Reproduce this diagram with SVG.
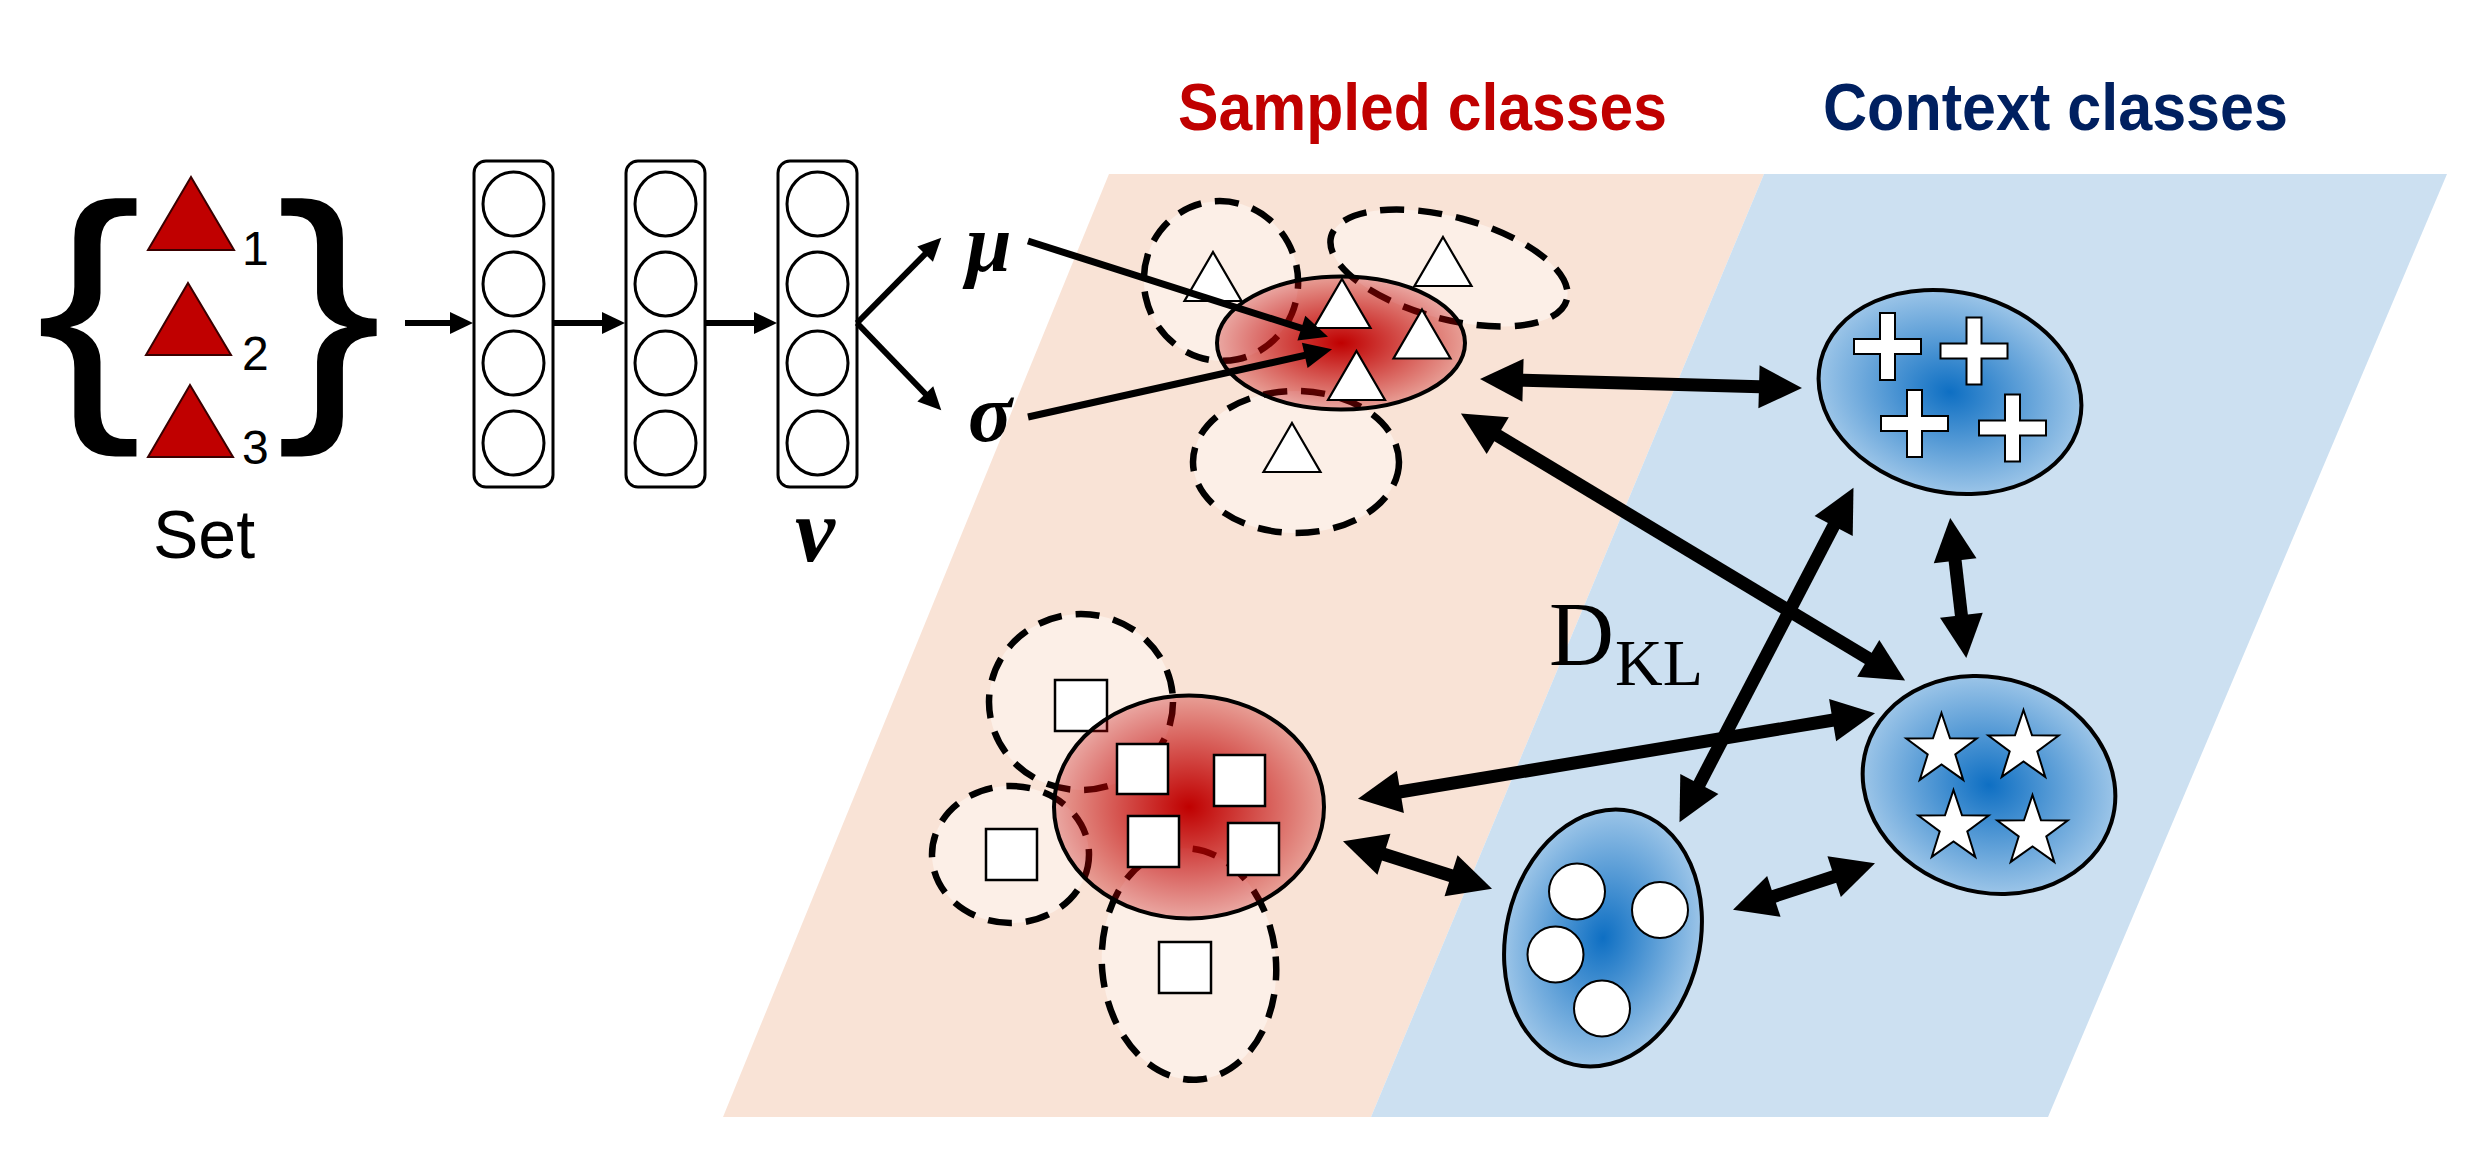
<svg xmlns="http://www.w3.org/2000/svg" width="2481" height="1152" viewBox="0 0 2481 1152">
<style>
.sans{font-family:"Liberation Sans",Arial,sans-serif}
.serif{font-family:"Liberation Serif","Times New Roman",serif}
.col{fill:#fff;stroke:#000;stroke-width:3}
.neu{fill:#fff;stroke:#000;stroke-width:3}
.dash{fill:#FCEFE7;stroke:#000;stroke-width:6.5;stroke-dasharray:24 14}
.wtri{fill:#fff;stroke:#000;stroke-width:2.2}
.sq{fill:#fff;stroke:#000;stroke-width:2.5}
.rtri{fill:#C00000;stroke:#3a0000;stroke-width:2}
.big{fill:none;stroke:#000;stroke-width:13;marker-start:url(#hb);marker-end:url(#hb)}
.thin{fill:none;stroke:#000;stroke-width:6;marker-end:url(#hs)}
.ms{fill:none;stroke:#000;stroke-width:7;marker-end:url(#hm)}
.sym{fill:#fff;stroke:#000;stroke-width:2}
</style>
<defs>
<radialGradient id="rg" cx="50%" cy="50%" r="50%">
<stop offset="0" stop-color="#C00000" stop-opacity="1"/>
<stop offset="1" stop-color="#C00000" stop-opacity="0.3"/>
</radialGradient>
<radialGradient id="bg" cx="50%" cy="50%" r="50%">
<stop offset="0" stop-color="#0E6FC3"/>
<stop offset="1" stop-color="#9CC5E8"/>
</radialGradient>
<marker id="hb" markerUnits="userSpaceOnUse" orient="auto-start-reverse" refX="1" refY="0" overflow="visible" markerWidth="44" markerHeight="44">
<path d="M0,-21.5 L43,0 L0,21.5 Z" fill="#000"/>
</marker>
<marker id="hs" markerUnits="userSpaceOnUse" orient="auto" refX="1" refY="0" overflow="visible" markerWidth="24" markerHeight="24">
<path d="M0,-11 L23,0 L0,11 Z" fill="#000"/>
</marker>
<marker id="hm" markerUnits="userSpaceOnUse" orient="auto" refX="1" refY="0" overflow="visible" markerWidth="30" markerHeight="30">
<path d="M0,-13 L28,0 L0,13 Z" fill="#000"/>
</marker>
<path id="wt" d="M0,-24.5 L28.5,24.5 L-28.5,24.5 Z"/>
<path id="plus" d="M-7.5,-33.5 H7.5 V-7.5 H33.5 V7.5 H7.5 V33.5 H-7.5 V7.5 H-33.5 V-7.5 H-7.5 Z"/>
<path id="star" d="M0,-37 L8.5,-11.7 L35.19,-11.43 L13.8,4.5 L21.75,29.93 L0,14.5 L-21.75,29.93 L-13.8,4.5 L-35.19,-11.43 L-8.5,-11.7 Z"/>
</defs>

<g id="bands">
<polygon points="1109,174 1764,174 1371,1117 723,1117" fill="#F9E3D6"/>
<polygon points="1764,174 2447,174 2048,1117 1371,1117" fill="#CCE0F1"/>
</g>

<g id="titles">
<text class="sans" x="1178" y="130" font-size="67" font-weight="bold" fill="#C00000" textLength="489" lengthAdjust="spacingAndGlyphs">Sampled classes</text>
<text class="sans" x="1823" y="130" font-size="67" font-weight="bold" fill="#002060" textLength="465" lengthAdjust="spacingAndGlyphs">Context classes</text>
</g>

<g id="set">
<text class="sans" transform="scale(1.15,1)" x="31" y="399" font-size="277">{</text>
<text class="sans" transform="scale(1.15,1)" x="240" y="399" font-size="277">}</text>
<polygon class="rtri" points="191,177 234,250 148,250"/>
<polygon class="rtri" points="188,283 231,355 146,355"/>
<polygon class="rtri" points="190,385 233,457 148,457"/>
<text class="sans" x="242" y="265" font-size="48">1</text>
<text class="sans" x="242" y="370" font-size="48">2</text>
<text class="sans" x="242" y="464" font-size="48">3</text>
<text class="sans" x="153" y="558" font-size="68">Set</text>
</g>

<g id="layer1">
<rect class="col" x="474" y="161" width="79" height="326" rx="12"/>
<ellipse class="neu" cx="513.5" cy="204" rx="30.5" ry="32"/>
<ellipse class="neu" cx="513.5" cy="284" rx="30.5" ry="32"/>
<ellipse class="neu" cx="513.5" cy="363" rx="30.5" ry="32"/>
<ellipse class="neu" cx="513.5" cy="443" rx="30.5" ry="32"/>
</g>
<g id="layer2">
<rect class="col" x="626" y="161" width="79" height="326" rx="12"/>
<ellipse class="neu" cx="665.5" cy="204" rx="30.5" ry="32"/>
<ellipse class="neu" cx="665.5" cy="284" rx="30.5" ry="32"/>
<ellipse class="neu" cx="665.5" cy="363" rx="30.5" ry="32"/>
<ellipse class="neu" cx="665.5" cy="443" rx="30.5" ry="32"/>
</g>
<g id="layer3">
<rect class="col" x="778" y="161" width="79" height="326" rx="12"/>
<ellipse class="neu" cx="817.5" cy="204" rx="30.5" ry="32"/>
<ellipse class="neu" cx="817.5" cy="284" rx="30.5" ry="32"/>
<ellipse class="neu" cx="817.5" cy="363" rx="30.5" ry="32"/>
<ellipse class="neu" cx="817.5" cy="443" rx="30.5" ry="32"/>
<text class="serif" x="795" y="561" font-size="90" font-weight="bold" font-style="italic">v</text>
</g>

<g id="mu"><text class="serif" x="966" y="271" font-size="82" font-weight="bold" font-style="italic">μ</text></g>
<g id="sigma"><text class="serif" x="968" y="441" font-size="82" font-weight="bold" font-style="italic">σ</text></g>

<g id="sampled-triangles">
<ellipse class="dash" cx="1221" cy="281" rx="77" ry="80" transform="rotate(-12 1221 281)"/>
<ellipse class="dash" cx="1449" cy="268" rx="122" ry="51" transform="rotate(15 1449 268)"/>
<ellipse class="dash" cx="1296" cy="462" rx="103" ry="71"/>
<use href="#wt" class="wtri" x="1213" y="276.5"/>
<use href="#wt" class="wtri" x="1443" y="261.5"/>
<use href="#wt" class="wtri" x="1292" y="447.5"/>
<ellipse cx="1341" cy="343" rx="124" ry="66.5" fill="url(#rg)" stroke="#000" stroke-width="4"/>
<use href="#wt" class="wtri" x="1342" y="303.5"/>
<use href="#wt" class="wtri" x="1422" y="334"/>
<use href="#wt" class="wtri" x="1356.5" y="375.5"/>
</g>

<g id="sampled-squares">
<ellipse class="dash" cx="1081" cy="702" rx="92" ry="88"/>
<ellipse class="dash" cx="1010.5" cy="854.5" rx="78.5" ry="68.5"/>
<ellipse class="dash" cx="1189" cy="964" rx="87" ry="116" transform="rotate(-5 1189 964)"/>
<rect class="sq" x="1055" y="680" width="52" height="51"/>
<rect class="sq" x="986" y="829" width="51" height="51"/>
<rect class="sq" x="1159" y="942" width="52" height="51"/>
<ellipse cx="1189" cy="807" rx="135" ry="111.5" fill="url(#rg)" stroke="#000" stroke-width="4"/>
<rect class="sq" x="1117" y="744" width="51" height="50"/>
<rect class="sq" x="1214" y="755" width="51" height="51"/>
<rect class="sq" x="1128" y="816" width="51" height="51"/>
<rect class="sq" x="1228" y="823" width="51" height="52"/>
</g>

<g id="context-plus">
<ellipse cx="1950" cy="392" rx="133" ry="100" transform="rotate(13.5 1950 392)" fill="url(#bg)" stroke="#000" stroke-width="4"/>
<use href="#plus" class="sym" x="1887.5" y="346.5"/>
<use href="#plus" class="sym" x="1974" y="351"/>
<use href="#plus" class="sym" x="1914.5" y="423.5"/>
<use href="#plus" class="sym" x="2012.5" y="428"/>
</g>

<g id="context-star">
<ellipse cx="1989" cy="785" rx="128" ry="107" transform="rotate(17 1989 785)" fill="url(#bg)" stroke="#000" stroke-width="4"/>
<use href="#star" class="sym" x="1941.5" y="750"/>
<use href="#star" class="sym" x="2023.5" y="747"/>
<use href="#star" class="sym" x="1953.5" y="827"/>
<use href="#star" class="sym" x="2032.5" y="832"/>
</g>

<g id="context-circle">
<ellipse cx="1603" cy="938" rx="97" ry="130" transform="rotate(13 1603 938)" fill="url(#bg)" stroke="#000" stroke-width="4"/>
<circle class="sym" cx="1577" cy="891.5" r="28"/>
<circle class="sym" cx="1660" cy="910" r="28"/>
<circle class="sym" cx="1555.5" cy="954.5" r="28"/>
<circle class="sym" cx="1602" cy="1008.5" r="28"/>
</g>

<g id="dkl">
<text class="serif" x="1549" y="665" font-size="90">D</text>
<text class="serif" x="1615" y="685" font-size="66">KL</text>
</g>

<g id="connectors">
<line class="thin" x1="405" y1="323" x2="451" y2="323"/>
<line class="thin" x1="553" y1="323" x2="603" y2="323"/>
<line class="thin" x1="705" y1="323" x2="755" y2="323"/>
<line class="thin" x1="857" y1="323" x2="925.8" y2="253.4"/>
<line class="thin" x1="857" y1="323" x2="926" y2="394.5"/>
<line class="ms" x1="1028" y1="241" x2="1302.3" y2="328.5"/>
<line class="ms" x1="1028" y1="417" x2="1305.7" y2="355.1"/>
<line class="big" x1="1522" y1="380.2" x2="1760" y2="386.8"/>
<line class="big" x1="1496.9" y1="435.1" x2="1869.1" y2="658.9"/>
<line class="big" x1="1834.1" y1="525.1" x2="1698.9" y2="784.9"/>
<line class="big" x1="1955" y1="559.7" x2="1961.5" y2="616.3"/>
<line class="big" x1="1399.4" y1="792" x2="1833.6" y2="720"/>
<line class="big" x1="1383" y1="854" x2="1452" y2="876"/>
<line class="big" x1="1772.9" y1="896.7" x2="1835.1" y2="876.3"/>
</g>
</svg>
